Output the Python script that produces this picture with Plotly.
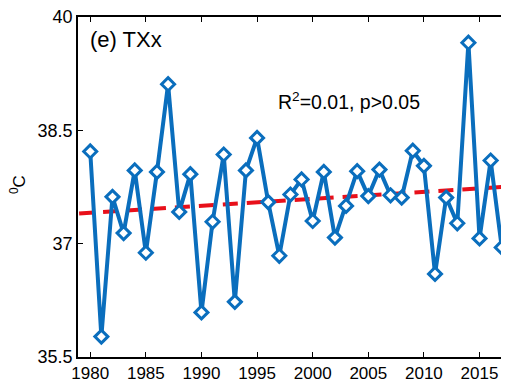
import plotly.graph_objects as go

years = list(range(1980, 2018))
txx = [38.22, 35.77, 37.62, 37.14, 37.97, 36.88, 37.95, 39.11, 37.42, 37.92,
       36.09, 37.29, 38.18, 36.23, 37.97, 38.40, 37.55, 36.84, 37.65, 37.85,
       37.30, 37.95, 37.08, 37.50, 37.96, 37.63, 37.98, 37.64, 37.61, 38.23,
       38.03, 36.60, 37.61, 37.27, 39.66, 37.07, 38.10, 36.95]
trend_years = [1979, 2018]
trend_vals = [37.40, 37.76]
x_ticks = [1980, 1985, 1990, 1995, 2000, 2005, 2010, 2015]
y_ticks = [35.5, 37, 38.5, 40]
y_tick_text = ["35.5", "37", "38.5", "40"]

# page has an 8px body margin; size the figure so the plot area lands at
# page x 78..509, y 17..357
W, H = 501, 380
L, R, T, B = 70, 0, 9, 31
pw, ph = W - L - R, H - T - B
OFF = 8

def px_x(p):
    return (p - OFF - L) / pw

def px_y(p):
    return 1 - (p - OFF - T) / ph

fig = go.Figure()
fig.add_trace(go.Scatter(
    x=trend_years, y=trend_vals, mode="lines",
    line=dict(color="#E8101A", width=4, dash="15px,9px"),
    hoverinfo="skip", showlegend=False))
fig.add_trace(go.Scatter(
    x=years, y=txx, mode="lines+markers",
    line=dict(color="#0A6EBD", width=4),
    marker=dict(symbol="diamond", size=10, color="white",
                line=dict(color="#0A6EBD", width=3)),
    showlegend=False, cliponaxis=False))

font_family = "Liberation Sans, Arial, sans-serif"
fig.add_annotation(text="(e) TXx", xref="paper", yref="paper",
                   x=px_x(88), y=px_y(40), xanchor="left", yanchor="middle",
                   showarrow=False, font=dict(size=22, color="black", family=font_family))
fig.add_annotation(text="R<sup>2</sup>=0.01, p>0.05", xref="paper", yref="paper",
                   x=px_x(276), y=px_y(101), xanchor="left", yanchor="middle",
                   showarrow=False, font=dict(size=19.5, color="black", family=font_family))
fig.add_annotation(text="<sup>0</sup>C", xref="paper", yref="paper",
                   x=px_x(18), y=px_y(185), xanchor="center", yanchor="middle",
                   textangle=-90, showarrow=False,
                   font=dict(size=17, color="black", family=font_family))

fig.update_xaxes(range=[1978.9, 2017.65], tickvals=x_ticks, ticks="inside", ticklen=5,
                 tickwidth=1.2, tickcolor="black", showline=True, linecolor="black",
                 linewidth=1.5, mirror="ticks", showgrid=False, zeroline=False,
                 automargin=False, ticklabeloverflow="allow",
                 tickfont=dict(size=17, color="black", family=font_family))
fig.update_yaxes(range=[35.5, 40], tickvals=y_ticks, ticktext=y_tick_text, ticks="inside",
                 ticklen=5, tickwidth=1.2, tickcolor="black", showline=True,
                 linecolor="black", linewidth=1.5, mirror=False, showgrid=False,
                 zeroline=False, automargin=False, ticklabeloverflow="allow",
                 tickfont=dict(size=18, color="black", family=font_family))
fig.update_layout(width=W, height=H, margin=dict(l=L, r=R, t=T, b=B),
                  paper_bgcolor="white", plot_bgcolor="white")
fig.write_html("out.html")
